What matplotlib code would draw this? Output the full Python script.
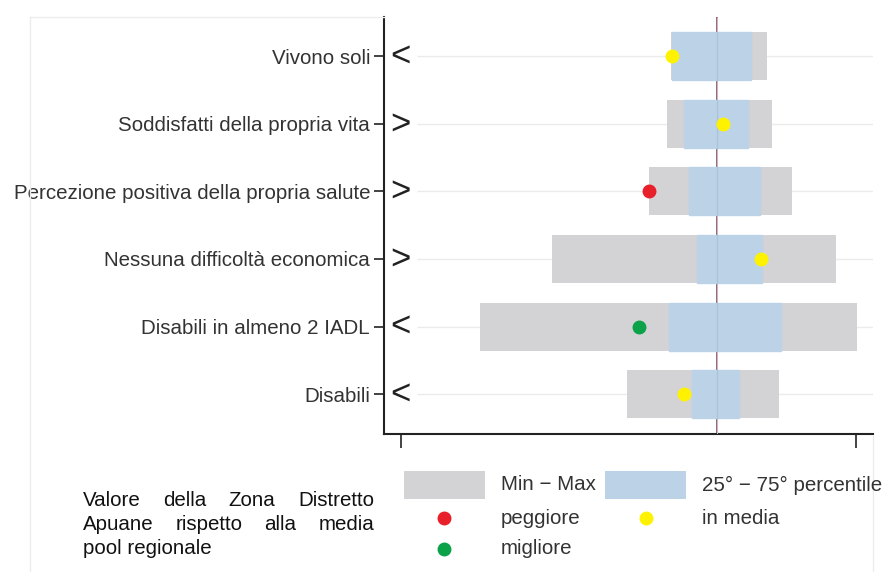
import matplotlib
matplotlib.use("Agg")
import matplotlib.pyplot as plt
from matplotlib.patches import Rectangle
from matplotlib.lines import Line2D

plt.rcParams['font.family'] = ['Liberation Sans', 'DejaVu Sans']

categories = ["Vivono soli", "Soddisfatti della propria vita",
              "Percezione positiva della propria salute",
              "Nessuna difficoltà economica", "Disabili in almeno 2 IADL",
              "Disabili"]
symbols = ["<", ">", ">", ">", "<", "<"]
min_vals = [59.3, 58.5, 54.5, 33.2, 17.4, 49.7]
max_vals = [80.4, 81.5, 85.9, 95.6, 100.2, 83.1]
p25_vals = [59.6, 62.2, 63.3, 65.1, 58.9, 64.0]
p75_vals = [76.9, 76.3, 78.9, 79.3, 83.5, 74.3]
zone_vals = [59.6, 70.8, 54.5, 79.1, 52.3, 62.2]
zone_class = ["media", "media", "peggiore", "media", "migliore", "media"]
regional_mean = 69.5
x_ticks = [0, 100]
legend_labels = ["Min − Max", "25° − 75° percentile", "peggiore", "in media",
                 "migliore"]

GRAY = "#d3d3d5"
BLUE = "#bcd2e6"
DOT = {"peggiore": "#e8202a", "media": "#fff200", "migliore": "#0ba24a"}
TXT = "#333333"
W, H = 886, 572

fig = plt.figure(figsize=(W/100, H/100), dpi=100)
ax = fig.add_axes([384/W, 1-434/H, (873-384)/W, (434-17)/H])

ypos = list(range(len(categories)))
ax.set_xlim(-3.7, 103.7)
ax.set_ylim(5.59, -0.58)

# faint grid lines
ax.hlines(ypos, 3.5, 103.7, color="#ebebeb", lw=1, zorder=0)
# regional mean line
ax.axvline(regional_mean, color="#a8262a", lw=1.1, zorder=1)

h = 0.71
ax.barh(ypos, [b - a for a, b in zip(min_vals, max_vals)], left=min_vals,
        height=h, color=GRAY, zorder=2)
ax.barh(ypos, [b - a for a, b in zip(p25_vals, p75_vals)], left=p25_vals,
        height=h, color=BLUE, edgecolor=BLUE, zorder=3)
ax.vlines(regional_mean, -0.58, 5.59, color="#a9c2da", lw=0.8, zorder=3.5)
for y, v, c in zip(ypos, zone_vals, zone_class):
    ax.plot(v, y, 'o', ms=9, color=DOT[c], mec=DOT[c], zorder=5)

for y, s in zip(ypos, symbols):
    ax.text(-2.3, y, s, fontsize=25, color="#222222", ha="left", va="center",
            zorder=6)

ax.set_yticks(ypos)
ax.set_yticklabels(categories, fontsize=14.8, color=TXT)
ax.set_xticks(x_ticks)
ax.set_xticklabels([])
ax.tick_params(axis='y', length=7, width=1.2, color="#222222", pad=3)
ax.tick_params(axis='x', length=10, width=1.2, color="#222222", direction='out')
for side in ["top", "right"]:
    ax.spines[side].set_visible(False)
for side in ["left", "bottom"]:
    ax.spines[side].set_linewidth(1.5)
    ax.spines[side].set_color("#222222")

# faint frame lines
fl = dict(color="#ececec", lw=1, transform=fig.transFigure)
fig.add_artist(Line2D([30/W, 30/W], [0, 1-17/H], **fl))
fig.add_artist(Line2D([30/W, 384/W], [1-17/H, 1-17/H], **fl))
fig.add_artist(Line2D([873/W, 873/W], [0, 1-436/H], **fl))

# manual legend
def fx(px):
    return px / W

def fy(py):
    return 1 - py / H

fig.add_artist(Rectangle((fx(404), fy(499)), 81/W, 28/H, facecolor=GRAY,
                         edgecolor='none', transform=fig.transFigure))
fig.add_artist(Rectangle((fx(605), fy(499)), 81/W, 28/H, facecolor=BLUE,
                         edgecolor='none', transform=fig.transFigure))
for (px, py), key in [((444, 518), "peggiore"), ((646, 518), "media"),
                      ((444, 549), "migliore")]:
    fig.add_artist(Line2D([fx(px)], [fy(py)], marker='o', ms=9, ls='',
                          color=DOT[key], transform=fig.transFigure))
for (px, py), lab in zip([(501, 485), (702, 485), (501, 518), (702, 518),
                          (501, 549)], legend_labels):
    fig.text(fx(px), fy(py), lab, fontsize=14.8, color=TXT, ha="left",
             va="center")

# justified note text
lines = [["Valore", "della", "Zona", "Distretto"],
         ["Apuane", "rispetto", "alla", "media"],
         ["pool regionale"]]
x0, x1 = 83, 374
y_centers = [501, 525, 549]
fig.canvas.draw()
r = fig.canvas.get_renderer()
for words, yc in zip(lines, y_centers):
    ts = [fig.text(0, fy(yc), w, fontsize=14.8, color="#111111",
                   va="center", ha="left") for w in words]
    widths = [t.get_window_extent(r).width for t in ts]
    gap = (x1 - x0 - sum(widths)) / (len(words) - 1) if len(words) > 1 else 0
    x = x0
    for t, w in zip(ts, widths):
        t.set_x(fx(x))
        x += w + gap

fig.savefig("out.png", dpi=100)
